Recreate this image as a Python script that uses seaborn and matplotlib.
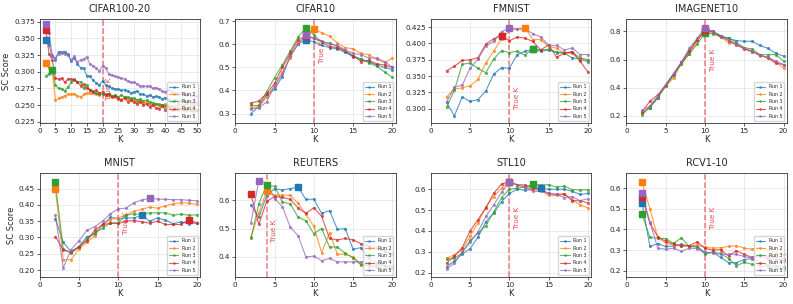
import numpy as np
import seaborn as sns
import matplotlib.pyplot as plt
from matplotlib.ticker import MultipleLocator

# K values
k_cifar100 = list(range(2, 51))
k_small = list(range(2, 21))

cifar100_r1 = [0.348, 0.340, 0.323, 0.318, 0.330, 0.329, 0.330, 0.326, 0.316, 0.321, 0.312, 0.306, 0.305, 0.294, 0.293, 0.287, 0.283, 0.280, 0.286, 0.280, 0.278, 0.275, 0.274, 0.274, 0.272, 0.273, 0.271, 0.268, 0.270, 0.271, 0.266, 0.266, 0.263, 0.265, 0.262, 0.263, 0.262, 0.259, 0.261, 0.258, 0.256, 0.257, 0.255, 0.257, 0.256, 0.254, 0.255, 0.253, 0.254]
cifar100_r2 = [0.313, 0.305, 0.300, 0.257, 0.260, 0.262, 0.264, 0.266, 0.266, 0.267, 0.264, 0.262, 0.266, 0.268, 0.268, 0.268, 0.267, 0.265, 0.266, 0.265, 0.264, 0.263, 0.262, 0.261, 0.258, 0.262, 0.259, 0.258, 0.257, 0.255, 0.256, 0.253, 0.254, 0.251, 0.250, 0.252, 0.249, 0.250, 0.251, 0.250, 0.249, 0.249, 0.250, 0.251, 0.250, 0.251, 0.250, 0.251, 0.252]
cifar100_r3 = [0.294, 0.297, 0.303, 0.280, 0.275, 0.274, 0.271, 0.277, 0.284, 0.289, 0.285, 0.285, 0.275, 0.280, 0.272, 0.271, 0.268, 0.267, 0.266, 0.266, 0.267, 0.264, 0.265, 0.262, 0.265, 0.262, 0.262, 0.260, 0.260, 0.258, 0.259, 0.256, 0.257, 0.255, 0.253, 0.252, 0.251, 0.250, 0.249, 0.247, 0.247, 0.246, 0.245, 0.245, 0.244, 0.244, 0.243, 0.244, 0.243]
cifar100_r4 = [0.362, 0.326, 0.318, 0.290, 0.289, 0.290, 0.284, 0.289, 0.289, 0.287, 0.285, 0.279, 0.281, 0.275, 0.273, 0.270, 0.272, 0.268, 0.270, 0.265, 0.266, 0.262, 0.263, 0.259, 0.258, 0.260, 0.255, 0.257, 0.254, 0.252, 0.255, 0.250, 0.252, 0.247, 0.250, 0.246, 0.244, 0.248, 0.243, 0.247, 0.243, 0.244, 0.243, 0.244, 0.242, 0.243, 0.242, 0.241, 0.242]
cifar100_r5 = [0.372, 0.358, 0.325, 0.320, 0.327, 0.328, 0.327, 0.325, 0.317, 0.323, 0.314, 0.318, 0.319, 0.322, 0.311, 0.309, 0.305, 0.301, 0.309, 0.306, 0.296, 0.295, 0.293, 0.292, 0.290, 0.289, 0.286, 0.284, 0.284, 0.282, 0.279, 0.278, 0.278, 0.278, 0.275, 0.276, 0.274, 0.271, 0.270, 0.273, 0.270, 0.268, 0.267, 0.268, 0.266, 0.265, 0.265, 0.264, 0.263]

cifar10_r1 = [0.300, 0.330, 0.380, 0.405, 0.460, 0.550, 0.600, 0.620, 0.610, 0.595, 0.585, 0.580, 0.565, 0.545, 0.535, 0.525, 0.510, 0.500, 0.490]
cifar10_r2 = [0.325, 0.330, 0.370, 0.420, 0.480, 0.540, 0.610, 0.630, 0.665, 0.650, 0.635, 0.605, 0.585, 0.580, 0.560, 0.555, 0.535, 0.520, 0.540]
cifar10_r3 = [0.335, 0.335, 0.395, 0.455, 0.510, 0.570, 0.630, 0.672, 0.640, 0.610, 0.605, 0.590, 0.570, 0.550, 0.535, 0.520, 0.505, 0.480, 0.457]
cifar10_r4 = [0.345, 0.355, 0.385, 0.430, 0.500, 0.560, 0.620, 0.636, 0.625, 0.610, 0.590, 0.585, 0.570, 0.550, 0.525, 0.530, 0.515, 0.510, 0.500]
cifar10_r5 = [0.320, 0.325, 0.350, 0.420, 0.470, 0.550, 0.600, 0.638, 0.625, 0.615, 0.600, 0.595, 0.575, 0.560, 0.555, 0.540, 0.540, 0.525, 0.500]

fmnist_r1 = [0.310, 0.289, 0.318, 0.311, 0.314, 0.327, 0.353, 0.363, 0.362, 0.383, 0.388, 0.391, 0.388, 0.390, 0.387, 0.385, 0.378, 0.376, 0.372]
fmnist_r2 = [0.318, 0.330, 0.332, 0.335, 0.345, 0.370, 0.388, 0.407, 0.420, 0.422, 0.424, 0.406, 0.406, 0.395, 0.393, 0.385, 0.385, 0.375, 0.374]
fmnist_r3 = [0.302, 0.328, 0.368, 0.370, 0.362, 0.355, 0.376, 0.389, 0.386, 0.388, 0.382, 0.392, 0.390, 0.391, 0.386, 0.386, 0.387, 0.378, 0.375]
fmnist_r4 = [0.358, 0.365, 0.374, 0.375, 0.378, 0.399, 0.407, 0.412, 0.404, 0.410, 0.408, 0.403, 0.390, 0.398, 0.379, 0.385, 0.387, 0.373, 0.356]
fmnist_r5 = [0.310, 0.333, 0.336, 0.362, 0.376, 0.396, 0.403, 0.418, 0.424, 0.422, 0.422, 0.415, 0.410, 0.397, 0.397, 0.390, 0.393, 0.383, 0.383]

imagenet_r1 = [0.220, 0.260, 0.330, 0.420, 0.490, 0.580, 0.660, 0.740, 0.800, 0.798, 0.770, 0.750, 0.735, 0.730, 0.730, 0.700, 0.680, 0.645, 0.625]
imagenet_r2 = [0.220, 0.270, 0.340, 0.410, 0.470, 0.570, 0.640, 0.730, 0.810, 0.790, 0.760, 0.720, 0.710, 0.680, 0.660, 0.625, 0.620, 0.580, 0.540]
imagenet_r3 = [0.210, 0.260, 0.330, 0.410, 0.490, 0.570, 0.640, 0.710, 0.786, 0.785, 0.760, 0.755, 0.720, 0.685, 0.675, 0.635, 0.635, 0.635, 0.590]
imagenet_r4 = [0.230, 0.305, 0.350, 0.420, 0.500, 0.580, 0.660, 0.740, 0.810, 0.800, 0.765, 0.735, 0.705, 0.675, 0.655, 0.635, 0.610, 0.575, 0.565]
imagenet_r5 = [0.240, 0.270, 0.340, 0.420, 0.500, 0.580, 0.680, 0.750, 0.825, 0.800, 0.770, 0.740, 0.710, 0.680, 0.660, 0.630, 0.615, 0.590, 0.565]

mnist_r1 = [0.358, 0.285, 0.257, 0.272, 0.302, 0.310, 0.338, 0.362, 0.358, 0.360, 0.360, 0.368, 0.350, 0.360, 0.353, 0.342, 0.348, 0.342, 0.345]
mnist_r2 = [0.450, 0.232, 0.232, 0.265, 0.285, 0.305, 0.340, 0.355, 0.360, 0.370, 0.380, 0.387, 0.393, 0.390, 0.397, 0.403, 0.407, 0.405, 0.402]
mnist_r3 = [0.470, 0.265, 0.252, 0.270, 0.295, 0.315, 0.328, 0.345, 0.345, 0.368, 0.373, 0.370, 0.376, 0.375, 0.376, 0.368, 0.372, 0.368, 0.370]
mnist_r4 = [0.303, 0.262, 0.255, 0.272, 0.290, 0.322, 0.340, 0.343, 0.343, 0.350, 0.352, 0.348, 0.344, 0.350, 0.340, 0.340, 0.340, 0.355, 0.344]
mnist_r5 = [0.368, 0.207, 0.263, 0.290, 0.322, 0.333, 0.350, 0.373, 0.388, 0.390, 0.407, 0.415, 0.420, 0.418, 0.417, 0.416, 0.416, 0.414, 0.413]

reuters_r1 = [0.582, 0.540, 0.615, 0.640, 0.635, 0.640, 0.645, 0.602, 0.603, 0.553, 0.563, 0.497, 0.500, 0.427, 0.433, 0.395, 0.380, 0.370, 0.360]
reuters_r2 = [0.470, 0.555, 0.630, 0.617, 0.617, 0.617, 0.588, 0.550, 0.508, 0.415, 0.485, 0.410, 0.410, 0.400, 0.375, 0.370, 0.370, 0.370, 0.365]
reuters_r3 = [0.465, 0.587, 0.652, 0.648, 0.593, 0.587, 0.540, 0.527, 0.482, 0.500, 0.435, 0.435, 0.413, 0.397, 0.372, 0.370, 0.365, 0.360, 0.360]
reuters_r4 = [0.620, 0.515, 0.595, 0.612, 0.610, 0.602, 0.572, 0.553, 0.573, 0.543, 0.465, 0.460, 0.465, 0.460, 0.447, 0.437, 0.430, 0.420, 0.410]
reuters_r5 = [0.520, 0.667, 0.660, 0.605, 0.577, 0.505, 0.475, 0.400, 0.403, 0.387, 0.395, 0.383, 0.383, 0.383, 0.383, 0.380, 0.375, 0.370, 0.370]

stl_r1 = [0.230, 0.255, 0.290, 0.315, 0.370, 0.445, 0.485, 0.540, 0.580, 0.600, 0.595, 0.600, 0.605, 0.600, 0.600, 0.600, 0.590, 0.575, 0.580]
stl_r2 = [0.270, 0.285, 0.310, 0.375, 0.440, 0.515, 0.565, 0.605, 0.634, 0.620, 0.610, 0.600, 0.595, 0.570, 0.570, 0.575, 0.550, 0.525, 0.510]
stl_r3 = [0.265, 0.270, 0.295, 0.355, 0.390, 0.425, 0.490, 0.560, 0.600, 0.605, 0.610, 0.625, 0.620, 0.622, 0.610, 0.615, 0.598, 0.597, 0.597]
stl_r4 = [0.245, 0.280, 0.320, 0.400, 0.455, 0.510, 0.580, 0.625, 0.635, 0.622, 0.620, 0.605, 0.600, 0.580, 0.575, 0.578, 0.545, 0.545, 0.535]
stl_r5 = [0.220, 0.245, 0.300, 0.345, 0.395, 0.470, 0.525, 0.585, 0.633, 0.620, 0.610, 0.590, 0.590, 0.580, 0.575, 0.560, 0.565, 0.545, 0.555]

rcv_r1 = [0.527, 0.318, 0.332, 0.318, 0.320, 0.328, 0.320, 0.320, 0.287, 0.290, 0.265, 0.240, 0.240, 0.255, 0.260, 0.240, 0.230, 0.225, 0.220]
rcv_r2 = [0.628, 0.500, 0.360, 0.335, 0.325, 0.320, 0.320, 0.325, 0.315, 0.310, 0.312, 0.318, 0.322, 0.310, 0.305, 0.315, 0.300, 0.290, 0.280]
rcv_r3 = [0.473, 0.362, 0.358, 0.356, 0.333, 0.360, 0.318, 0.315, 0.282, 0.290, 0.285, 0.260, 0.225, 0.242, 0.232, 0.225, 0.220, 0.215, 0.210]
rcv_r4 = [0.556, 0.430, 0.365, 0.343, 0.330, 0.322, 0.322, 0.340, 0.310, 0.300, 0.303, 0.272, 0.298, 0.280, 0.265, 0.270, 0.260, 0.255, 0.250]
rcv_r5 = [0.578, 0.435, 0.310, 0.305, 0.310, 0.295, 0.310, 0.308, 0.290, 0.288, 0.280, 0.280, 0.280, 0.270, 0.262, 0.275, 0.270, 0.265, 0.260]

panels = [
    ("CIFAR100-20", k_cifar100, [cifar100_r1, cifar100_r2, cifar100_r3, cifar100_r4, cifar100_r5], 20),
    ("CIFAR10", k_small, [cifar10_r1, cifar10_r2, cifar10_r3, cifar10_r4, cifar10_r5], 10),
    ("FMNIST", k_small, [fmnist_r1, fmnist_r2, fmnist_r3, fmnist_r4, fmnist_r5], 10),
    ("IMAGENET10", k_small, [imagenet_r1, imagenet_r2, imagenet_r3, imagenet_r4, imagenet_r5], 10),
    ("MNIST", k_small, [mnist_r1, mnist_r2, mnist_r3, mnist_r4, mnist_r5], 10),
    ("REUTERS", k_small, [reuters_r1, reuters_r2, reuters_r3, reuters_r4, reuters_r5], 4),
    ("STL10", k_small, [stl_r1, stl_r2, stl_r3, stl_r4, stl_r5], 10),
    ("RCV1-10", k_small, [rcv_r1, rcv_r2, rcv_r3, rcv_r4, rcv_r5], 10),
]

# axis limits, y tick step and where the "True K" text sits (axes fraction)
ylims = [(0.223, 0.379), (0.259, 0.709), (0.278, 0.4375), (0.15, 0.888),
         (0.179, 0.498), (0.33, 0.695), (0.18, 0.678), (0.171, 0.673)]
ysteps = [0.025, 0.1, 0.025, 0.2, 0.05, 0.1, 0.1, 0.1]
text_frac = [0.33, 0.68, 0.245, 0.61, 0.52, 0.44, 0.57, 0.57]

sns.set_style("ticks")
colors = sns.color_palette("tab10", 5)

fig, axes = plt.subplots(2, 4, figsize=(7.93, 3.04), dpi=100)
plt.subplots_adjust(left=0.05, right=0.992, top=0.9375, bottom=0.089, wspace=0.22, hspace=0.48)

for i, (ax, (title, ks, runs, true_k)) in enumerate(zip(axes.flat, panels)):
    for r, vals in enumerate(runs):
        sns.lineplot(x=ks, y=vals, ax=ax, color=colors[r], marker="o", markersize=2.3,
                     markeredgewidth=0, linewidth=0.8, alpha=0.75, label=f"Run {r+1}")
        best = int(np.argmax(vals))
        ax.plot(ks[best], vals[best], marker="s", markersize=5, color=colors[r],
                linestyle="none", zorder=4)
    ax.axvline(true_k, color="#e8474c", linestyle="--", linewidth=1.1, alpha=0.7, zorder=1)
    lo, hi = ylims[i]
    ax.text(true_k + 0.02 * ks[-1] + 0.2, lo + text_frac[i] * (hi - lo), "True K",
            rotation=90, color="#e8474c", fontsize=5.2, va="center", ha="left", zorder=1)
    ax.set_xlim(0, ks[-1] + 0.02 * ks[-1])
    if ks[-1] > 20:
        ax.set_xticks(range(0, 51, 5))
    ax.set_ylim(lo, hi)
    ax.yaxis.set_major_locator(MultipleLocator(ysteps[i]))
    ax.set_title(title, fontsize=7, pad=5)
    ax.set_xlabel("K", fontsize=6, labelpad=1)
    if i % 4 == 0:
        ax.set_ylabel("SC Score", fontsize=6, labelpad=2)
    else:
        ax.set_ylabel("")
    ax.tick_params(labelsize=5.2, length=2, width=0.5, pad=1.5)
    ax.grid(True, color="#e6e6e6", linewidth=0.6)
    ax.set_axisbelow(True)
    for sp in ax.spines.values():
        sp.set_linewidth(0.6)
        sp.set_color("#333333")
    ax.legend(loc="lower right", fontsize=3.4, markerscale=0.8, handlelength=2,
              labelspacing=0.5, borderpad=0.4, framealpha=0.8, edgecolor="#cccccc")

plt.savefig("out.png", dpi=100)
